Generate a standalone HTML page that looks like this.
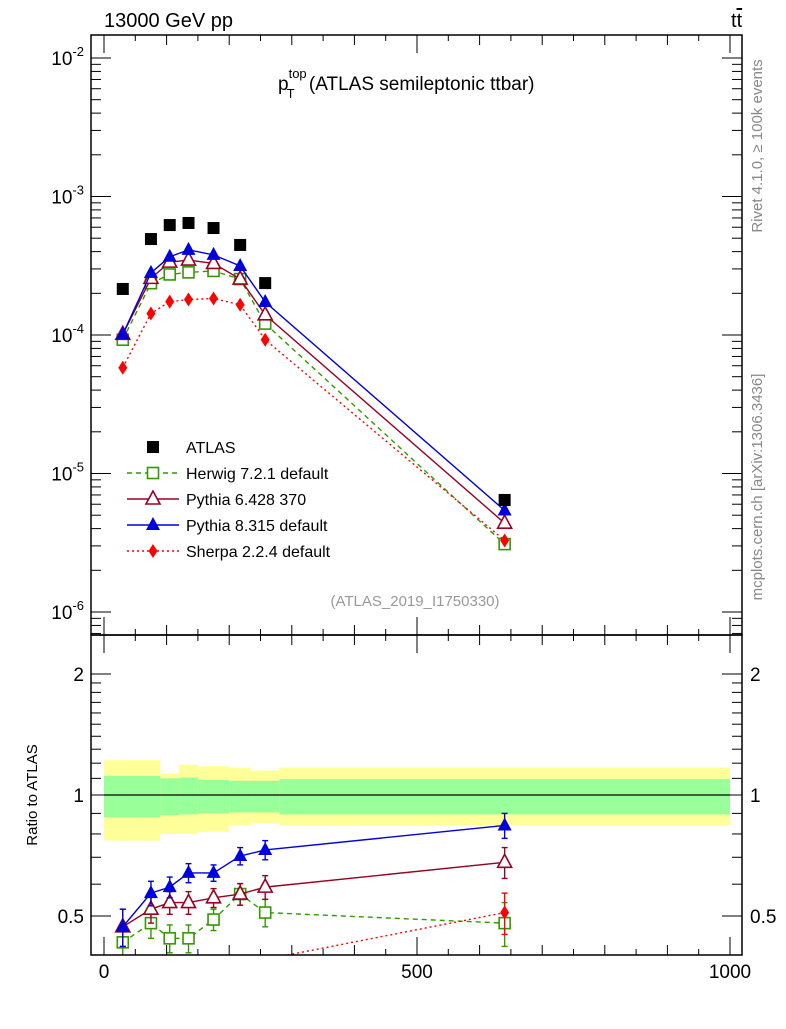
<!DOCTYPE html>
<html><head><meta charset="utf-8"><style>
body{margin:0;background:#fff;}
svg text{font-family:"Liberation Sans",sans-serif;}
</style></head><body>
<svg id="c" width="786" height="1024" xmlns="http://www.w3.org/2000/svg"></svg>
<script>
const xCenters=[30,75,105,135,175,217.5,257.5,640];
const binEdges=[0,60,90,120,150,200,235,280,1000];
const atlas=[2.15e-4,4.93e-4,6.22e-4,6.44e-4,5.92e-4,4.47e-4,2.37e-4,6.44e-6];
const ratioHerwig=[0.43,0.48,0.44,0.44,0.49,0.567,0.51,0.48];
const ratioPy6=[0.47,0.52,0.54,0.54,0.555,0.567,0.59,0.68];
const ratioPy8=[0.47,0.57,0.59,0.64,0.64,0.705,0.73,0.84];
const ratioSherpa=[0.27,0.29,0.28,0.28,0.31,0.37,0.39,0.51];
const ratioErr=[0.05,0.04,0.035,0.035,0.03,0.035,0.04,0.06];
const bandYellowUp=[1.22,1.22,1.13,1.19,1.18,1.17,1.15,1.17];
const bandYellowDn=[0.77,0.77,0.80,0.80,0.81,0.84,0.85,0.84];
const bandGreenUp=[1.115,1.115,1.10,1.105,1.09,1.085,1.085,1.095];
const bandGreenDn=[0.88,0.88,0.89,0.895,0.90,0.905,0.905,0.895];
const xTicks=[0,500,1000];

const S=document.getElementById('c');const NS='http://www.w3.org/2000/svg';
function el(t,a,p){const e=document.createElementNS(NS,t);for(const k in a)e.setAttribute(k,a[k]);(p||S).appendChild(e);return e;}
const L=91,R=742,T=35,M=635,B=955;
const RMIN=0.4;
const X=v=>104+v*0.626;
const Y=v=>58+(-2-Math.log10(v))*138.5;
const RY=v=>795-Math.log10(v)*402;

const defs=el('defs',{});
const c1=el('clipPath',{id:'cm'},defs);el('rect',{x:L,y:T,width:R-L,height:M-T},c1);
const c2=el('clipPath',{id:'cr'},defs);el('rect',{x:L,y:M,width:R-L,height:B-M},c2);

const gb=el('g',{'clip-path':'url(#cr)'});

for(let i=0;i<xCenters.length;i++){
  const x0=X(binEdges[i]),x1=X(binEdges[i+1]);
  let r=el('rect',{x:x0,y:RY(bandYellowUp[i]),width:x1-x0,height:RY(bandYellowDn[i])-RY(bandYellowUp[i]),fill:'#ffff99'},gb);
  
  r=el('rect',{x:x0,y:RY(bandGreenUp[i]),width:x1-x0,height:RY(bandGreenDn[i])-RY(bandGreenUp[i]),fill:'#99ff99'},gb);
  
}
el('line',{x1:X(0),x2:X(1000),y1:RY(1),y2:RY(1),stroke:'#000','stroke-width':1.2},gb);

function marker(g,type,x,y,col){
  if(type==='sq')el('rect',{x:x-6,y:y-6,width:12,height:12,fill:col},g);
  else if(type==='osq')el('rect',{x:x-5.5,y:y-5.5,width:11,height:11,fill:'#fff',stroke:col,'stroke-width':1.6},g);
  else if(type==='otri')el('polygon',{points:`${x},${y-8} ${x-7},${y+5} ${x+7},${y+5}`,fill:'#fff',stroke:col,'stroke-width':1.6},g);
  else if(type==='tri')el('polygon',{points:`${x},${y-8} ${x-7},${y+5} ${x+7},${y+5}`,fill:col},g);
  else if(type==='dia')el('polygon',{points:`${x},${y-7} ${x-4.5},${y} ${x},${y+7} ${x+4.5},${y}`,fill:col},g);
}
const series=[
 {n:'herwig',r:ratioHerwig,col:'#339900',type:'osq',dash:'5,4',label:'Herwig 7.2.1 default'},
 {n:'pythia6',r:ratioPy6,col:'#990022',type:'otri',dash:'',label:'Pythia 6.428 370'},
 {n:'pythia8',r:ratioPy8,col:'#0000dd',type:'tri',dash:'',label:'Pythia 8.315 default'},
 {n:'sherpa',r:ratioSherpa,col:'#ff0000',type:'dia',dash:'2,3',label:'Sherpa 2.2.4 default'}];
const gm=el('g',{'clip-path':'url(#cm)'});
const gr=el('g',{'clip-path':'url(#cr)'});
series.forEach(s=>{
  const vals=s.r.map((r,i)=>r*atlas[i]);
  let p=el('polyline',{points:vals.map((v,i)=>X(xCenters[i])+','+Y(v)).join(' '),fill:'none',stroke:s.col,'stroke-width':1.4,'stroke-dasharray':s.dash},gm);
  
  p=el('polyline',{points:s.r.map((v,i)=>X(xCenters[i])+','+RY(v)).join(' '),fill:'none',stroke:s.col,'stroke-width':1.4,'stroke-dasharray':s.dash},gr);
  
  vals.forEach((v,i)=>{const g=el('g',{},gm);marker(g,s.type,X(xCenters[i]),Y(v),s.col);});
  s.r.forEach((v,i)=>{if(v<RMIN)return;const g=el('g',{},gr);
    const x=X(xCenters[i]),e=ratioErr[i];
    el('line',{x1:x,x2:x,y1:RY(v+e),y2:RY(v-e),stroke:s.col,'stroke-width':1.4},g);
    el('line',{x1:x-3,x2:x+3,y1:RY(v+e),y2:RY(v+e),stroke:s.col,'stroke-width':1.4},g);
    el('line',{x1:x-3,x2:x+3,y1:RY(v-e),y2:RY(v-e),stroke:s.col,'stroke-width':1.4},g);
    marker(g,s.type,x,RY(v),s.col);});
});
atlas.forEach((v,i)=>{const g=el('g',{},gm);marker(g,'sq',X(xCenters[i]),Y(v),'#000');});

el('rect',{x:L,y:T,width:R-L,height:M-T,fill:'none',stroke:'#000','stroke-width':1.5});
el('rect',{x:L,y:M,width:R-L,height:B-M,fill:'none',stroke:'#000','stroke-width':1.5});
for(let v=0;v<=1000;v+=50){const x=X(v);const len=v%500===0?18:(v%100===0?10:6);
  [[T,1],[M,-1],[M,1],[B,-1]].forEach(([y,d])=>el('line',{x1:x,x2:x,y1:y,y2:y+d*len,stroke:'#000','stroke-width':1}));}
xTicks.forEach(v=>{const t=el('text',{x:X(v),y:978,'font-size':19,'text-anchor':'middle'});t.textContent=v;});
for(let d=-7;d<=-2;d++){for(let m=1;m<10;m++){const v=m*Math.pow(10,d);const y=Y(v);if(y<T||y>M)continue;const len=m===1?20:10;
  el('line',{x1:L,x2:L+len,y1:y,y2:y,stroke:'#000'});el('line',{x1:R,x2:R-len,y1:y,y2:y,stroke:'#000'});}
  const y=Y(Math.pow(10,d));if(y>=T&&y<=M){const t=el('text',{x:84,y:y+7,'font-size':19,'text-anchor':'end'});t.innerHTML='10<tspan dy="-9" font-size="13">'+d+'</tspan>';}}
[0.4,0.5,0.6,0.7,0.8,0.9,1,1.1,1.2,1.3,1.4,1.5,1.6,1.7,1.8,1.9,2].forEach(v=>{const y=RY(v);const len=(v===0.5||v===1||v===2)?20:10;
  el('line',{x1:L,x2:L+len,y1:y,y2:y,stroke:'#000'});el('line',{x1:R,x2:R-len,y1:y,y2:y,stroke:'#000'});});
[[0.5,'0.5'],[1,'1'],[2,'2']].forEach(([v,s])=>{let t=el('text',{x:84,y:RY(v)+7,'font-size':19,'text-anchor':'end'});t.textContent=s;
  t=el('text',{x:750,y:RY(v)+7,'font-size':19});t.textContent=s;});

function txt(x,y,s,a,n){const t=el('text',Object.assign({x:x,y:y},a));t.innerHTML=s;return t;}
txt(104,27,'13000 GeV pp',{'font-size':20},'energy-label');
txt(731,27,'t<tspan text-decoration="overline">t</tspan>',{'font-size':20},'process-label');
txt(278,90,'p<tspan dy="-12" font-size="13">top</tspan><tspan dx="-20" dy="20" font-size="13">T</tspan><tspan dx="9" dy="-8"> (ATLAS semileptonic ttbar)</tspan>',{'font-size':19},'plot-title');
txt(415,606,'(ATLAS_2019_I1750330)',{'font-size':15,fill:'#999','text-anchor':'middle'},'analysis-id');
txt(0,0,'Rivet 4.1.0, ≥ 100k events',{'font-size':15,fill:'#888','text-anchor':'middle',transform:'translate(762,146) rotate(-90)'},'rivet-label');
txt(0,0,'mcplots.cern.ch [arXiv:1306.3436]',{'font-size':15,fill:'#888','text-anchor':'middle',transform:'translate(762,487) rotate(-90)'},'mcplots-label');
txt(0,0,'Ratio to ATLAS',{'font-size':15,'text-anchor':'middle',transform:'translate(37,795) rotate(-90)'},'ratio-y-title');
const lg=el('g',{});
let g=el('g',{},lg);
marker(g,'sq',153,447,'#000');txt(186,453,'ATLAS',{'font-size':16},'legend-label');
series.forEach((s,i)=>{const y=473+i*26;const g=el('g',{},lg);
  el('line',{x1:127,x2:179,y1:y,y2:y,stroke:s.col,'stroke-width':1.4,'stroke-dasharray':s.dash},g);marker(g,s.type,153,y,s.col);
  txt(186,y+6,s.label,{'font-size':16},'legend-label');});
</script>
</body></html>
